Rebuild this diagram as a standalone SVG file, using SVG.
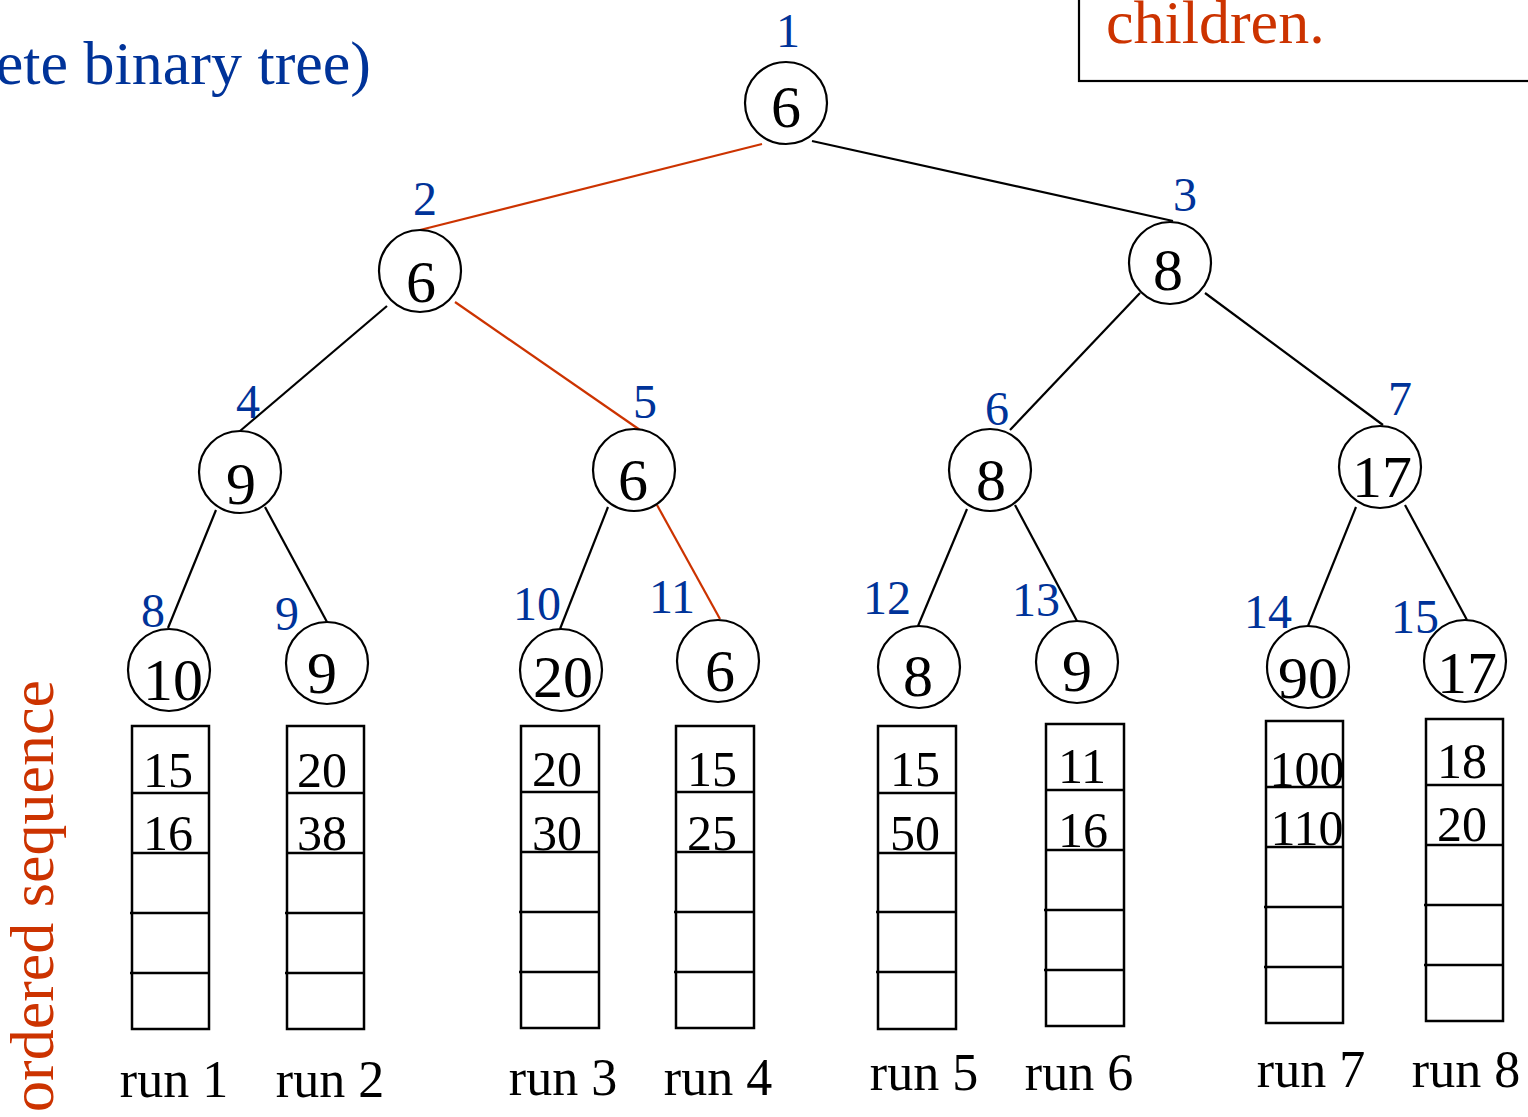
<svg xmlns="http://www.w3.org/2000/svg" width="1528" height="1117" viewBox="0 0 1528 1117">
<style>
.n{fill:#fff;stroke:#000;stroke-width:2.2}
.v{font-family:"Liberation Serif","Times New Roman",serif;font-size:60px;fill:#000;text-anchor:middle}
.i{font-family:"Liberation Serif","Times New Roman",serif;font-size:48px;fill:#003399;text-anchor:middle}
.e{stroke:#000;stroke-width:2.2;fill:none}
.r{stroke:#CC3300;stroke-width:2.2;fill:none}
.b{fill:none;stroke:#000;stroke-width:2.5}
.t{font-family:"Liberation Serif","Times New Roman",serif;font-size:50px;fill:#000;text-anchor:middle}
.l{font-family:"Liberation Serif","Times New Roman",serif;font-size:52px;fill:#000;text-anchor:middle}
.big{font-family:"Liberation Serif","Times New Roman",serif;font-size:62px}
</style>
<rect width="1528" height="1117" fill="#fff"/>
<text class="big" x="371" y="84" fill="#003399" text-anchor="end">ete binary tree)</text>
<g id="note">
<rect x="1079" y="-50" width="520" height="131" fill="none" stroke="#000" stroke-width="2.2"/>
<text class="big" x="1106" y="43" fill="#CC3300">children.</text>
</g>
<text class="big" transform="translate(53,1112) rotate(-90)" fill="#CC3300">ordered sequence</text>
<g id="connectors">
<line class="r" x1="762" y1="144" x2="420" y2="230"/>
<line class="e" x1="812" y1="141" x2="1173" y2="221"/>
<line class="e" x1="387" y1="306" x2="240" y2="431"/>
<line class="r" x1="455" y1="302" x2="640" y2="430"/>
<line class="e" x1="1140" y1="293" x2="1010" y2="430"/>
<line class="e" x1="1205" y1="293" x2="1383" y2="425"/>
<line class="e" x1="216" y1="510" x2="168" y2="628"/>
<line class="e" x1="265" y1="507" x2="327" y2="622"/>
<line class="e" x1="608" y1="507" x2="560" y2="629"/>
<line class="r" x1="657" y1="505" x2="720" y2="619"/>
<line class="e" x1="967" y1="509" x2="918" y2="626"/>
<line class="e" x1="1015" y1="505" x2="1077" y2="621"/>
<line class="e" x1="1356" y1="507" x2="1308" y2="626"/>
<line class="e" x1="1405" y1="505" x2="1467" y2="620"/>
</g>
<g id="node1"><ellipse class="n" cx="786" cy="103" rx="41" ry="41"/><text class="v" x="786" y="127">6</text><text class="i" x="788" y="47">1</text></g>
<g id="node2"><ellipse class="n" cx="420" cy="271" rx="41" ry="41"/><text class="v" x="421" y="302">6</text><text class="i" x="425" y="215">2</text></g>
<g id="node3"><ellipse class="n" cx="1170" cy="263" rx="41" ry="41"/><text class="v" x="1168" y="290">8</text><text class="i" x="1185" y="211">3</text></g>
<g id="node4"><ellipse class="n" cx="240" cy="472" rx="41" ry="41"/><text class="v" x="241" y="504">9</text><text class="i" x="248" y="418">4</text></g>
<g id="node5"><ellipse class="n" cx="634" cy="470" rx="41" ry="41"/><text class="v" x="633" y="500">6</text><text class="i" x="645" y="418">5</text></g>
<g id="node6"><ellipse class="n" cx="990" cy="470" rx="41" ry="41"/><text class="v" x="991" y="500">8</text><text class="i" x="997" y="425">6</text></g>
<g id="node7"><ellipse class="n" cx="1380" cy="467" rx="41" ry="41"/><text class="v" x="1382" y="497">17</text><text class="i" x="1400" y="415">7</text></g>
<g id="node8"><ellipse class="n" cx="169" cy="670" rx="41" ry="41"/><text class="v" x="173" y="700">10</text><text class="i" x="153" y="627">8</text></g>
<g id="node9"><ellipse class="n" cx="327" cy="663" rx="41" ry="41"/><text class="v" x="322" y="693">9</text><text class="i" x="287" y="630">9</text></g>
<g id="node10"><ellipse class="n" cx="561" cy="670" rx="41" ry="41"/><text class="v" x="563" y="697">20</text><text class="i" x="537" y="620">10</text></g>
<g id="node11"><ellipse class="n" cx="718" cy="661" rx="41" ry="41"/><text class="v" x="720" y="691">6</text><text class="i" x="672" y="613">11</text></g>
<g id="node12"><ellipse class="n" cx="919" cy="667" rx="41" ry="41"/><text class="v" x="918" y="696">8</text><text class="i" x="887" y="614">12</text></g>
<g id="node13"><ellipse class="n" cx="1077" cy="662" rx="41" ry="41"/><text class="v" x="1077" y="691">9</text><text class="i" x="1036" y="616">13</text></g>
<g id="node14"><ellipse class="n" cx="1308" cy="667" rx="41" ry="41"/><text class="v" x="1308" y="698">90</text><text class="i" x="1268" y="628">14</text></g>
<g id="node15"><ellipse class="n" cx="1465" cy="661" rx="41" ry="41"/><text class="v" x="1467" y="693">17</text><text class="i" x="1415" y="633">15</text></g>
<g id="run1"><rect class="b" x="132" y="726" width="77" height="303"/><path class="b" d="M132 793H209M132 853H209M130 913H209M130 973H209"/><text class="t" x="168" y="787">15</text><text class="t" x="168" y="850">16</text><text class="l" x="174" y="1097">run 1</text></g>
<g id="run2"><rect class="b" x="287" y="726" width="77" height="303"/><path class="b" d="M287 793H364M287 853H364M285 913H364M285 973H364"/><text class="t" x="322" y="787">20</text><text class="t" x="322" y="850">38</text><text class="l" x="330" y="1097">run 2</text></g>
<g id="run3"><rect class="b" x="521" y="726" width="78" height="302"/><path class="b" d="M521 792H599M521 852H599M519 912H599M519 972H599"/><text class="t" x="557" y="786">20</text><text class="t" x="557" y="850">30</text><text class="l" x="563" y="1095">run 3</text></g>
<g id="run4"><rect class="b" x="676" y="726" width="78" height="302"/><path class="b" d="M676 792H754M676 852H754M674 912H754M674 972H754"/><text class="t" x="712" y="786">15</text><text class="t" x="712" y="850">25</text><text class="l" x="718" y="1095">run 4</text></g>
<g id="run5"><rect class="b" x="878" y="726" width="78" height="303"/><path class="b" d="M878 793H956M878 853H956M876 912H956M876 972H956"/><text class="t" x="915" y="786">15</text><text class="t" x="915" y="850">50</text><text class="l" x="924" y="1090">run 5</text></g>
<g id="run6"><rect class="b" x="1046" y="724" width="78" height="302"/><path class="b" d="M1046 790H1124M1046 850H1124M1044 910H1124M1044 970H1124"/><text class="t" x="1082" y="783">11</text><text class="t" x="1083" y="847">16</text><text class="l" x="1079" y="1090">run 6</text></g>
<g id="run7"><rect class="b" x="1266" y="721" width="77" height="302"/><path class="b" d="M1266 787H1343M1266 847H1343M1264 907H1343M1264 967H1343"/><text class="t" x="1307" y="786">100</text><text class="t" x="1307" y="845">110</text><text class="l" x="1311" y="1087">run 7</text></g>
<g id="run8"><rect class="b" x="1426" y="719" width="77" height="302"/><path class="b" d="M1426 785H1503M1426 845H1503M1424 905H1503M1424 965H1503"/><text class="t" x="1462" y="778">18</text><text class="t" x="1462" y="841">20</text><text class="l" x="1466" y="1087">run 8</text></g>
</svg>
